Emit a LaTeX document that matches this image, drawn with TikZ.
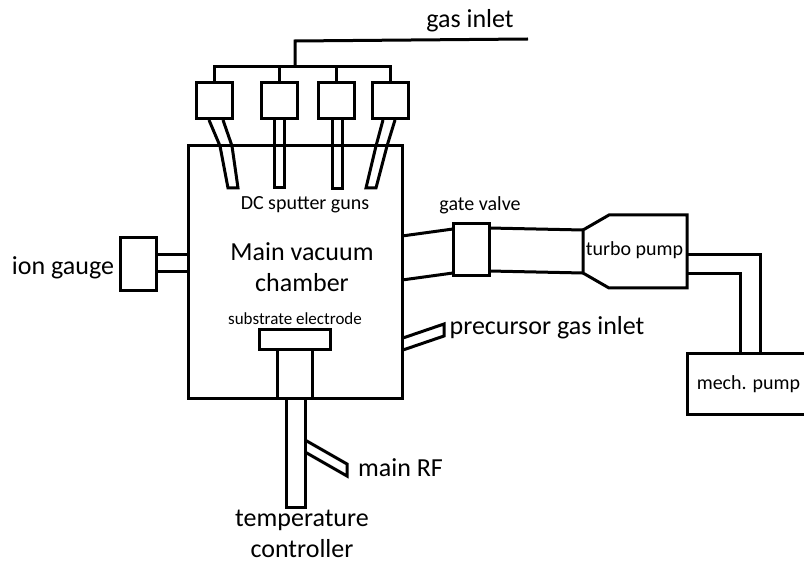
\documentclass[tikz,border=0pt]{standalone}
\usepackage{fontspec}
\setmainfont{Carlito}
\tikzset{
  part/.style={draw, line width=3pt, fill=white, inner sep=0pt},
  tube/.style={draw, line width=3pt, line join=miter},
  big/.style={inner sep=0pt, font=\fontsize{26}{31}\selectfont},
  mid/.style={inner sep=0pt, font=\fontsize{20}{24}\selectfont},
  small/.style={inner sep=0pt, font=\fontsize{17}{20}\selectfont}
}

\begin{document}
\begin{tikzpicture}[x=1pt, y=-1pt]
  \useasboundingbox (0,0) rectangle (804,561);
  \fill[white] (0,0) rectangle (804,561);
  % chamber and the parts on it
  \node[part, minimum width=214, minimum height=253] (C) at (295,272.5) {};
  \path[tube] (209,120) -- (220,146) -- (228,188) -- (238,188) -- (232,146) -- (223,120);
  \path[tube] (274,120) -- (274,188) -- (284,188) -- (284,120);
  \path[tube] (332,120) -- (332,189) -- (342,189) -- (342,120);
  \path[tube] (383,120) -- (376,146) -- (366,188) -- (376,188) -- (387,146) -- (395,120);
  \node[part, minimum width=36, minimum height=36] (G1) at (214,101) {};
  \node[part, minimum width=36, minimum height=36] (G2) at (279,101) {};
  \node[part, minimum width=36, minimum height=36] (G3) at (336.5,101) {};
  \node[part, minimum width=36, minimum height=36] (G4) at (390.5,101) {};
  \coordinate (M) at (295,67);
  \coordinate (I) at (528,39);
  \draw[line width=3pt] (G1.north) |- (M) -| (G4.north);
  \draw[line width=3pt] (G2.north) -- (G2.north |- M);
  \draw[line width=3pt] (G3.north) -- (G3.north |- M);
  \draw[line width=3pt] (M) -- (295,41) -- (I);
  % ion gauge
  \node[part, minimum width=36, minimum height=53] (IG) at (138,264.5) {};
  \path[tube] (156,255) -- (188,255) (156,272) -- (188,272);
  % gate valve and turbo pump
  \node[part, minimum width=36, minimum height=52] (V) at (471,250) {};
  \path[tube] (402,236) -- (453,229) (402,280) -- (453,273);
  \path[tube] (489,228) -- (583,230) (489,271) -- (583,273);
  \path[tube] (583,230) -- (609,215) -- (687,215) -- (687,288) -- (609,288) -- (583,273) -- cycle;
  % mechanical pump
  \node[part, minimum width=123, minimum height=61, mid] (P) at (748.5,384.5) {mech. pump};
  \path[tube] (687,255) -- (760,255) -- (760,354);
  \path[tube] (687,274) -- (740,274) -- (740,354);
  % precursor inlet
  \path[tube] (403,338) -- (444,324) -- (444,336) -- (403,350);
  % substrate and feedthrough
  \node[part, minimum width=71, minimum height=20] (S) at (294.5,340) {};
  \node[part, minimum width=35, minimum height=49] (N) at (294.5,374.5) {};
  \node[part, minimum width=19, minimum height=108] (F) at (295.5,453) {};
  \path[tube] (305,440) -- (347,464) -- (347,476) -- (305,452);
  % labels
  \node[big] (Lg) at (470,21) {gas inlet};
  \node[mid] (Ld) at (305,205) {DC sputter guns};
  \node[mid] (Lv) at (480,205) {gate valve};
  \node[mid] (Lt) at (634.5,250) {turbo pump};
  \node[big] (Lp) at (547,328) {precursor gas inlet};
  \node[big] (Li) at (63,268) {ion gauge};
  \node[big, align=center] (Lm) at (302,267.5) {Main vacuum\\chamber};
  \node[small] (Ls) at (295,319) {substrate electrode};
  \node[big] (Lr) at (400.5,468) {main RF};
  \node[big, align=center] (Lc) at (302,534) {temperature\\controller};
\end{tikzpicture}
\end{document}
